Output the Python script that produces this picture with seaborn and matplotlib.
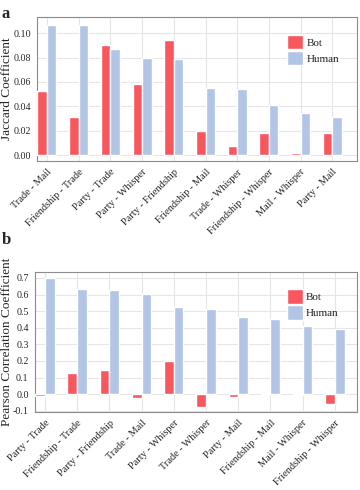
"""
Bot vs human: co-occurrence similarity between activity types
"""

import pandas as pd
import seaborn as sns
import matplotlib.pyplot as plt

# panel a: Jaccard coefficient
jac_pairs = ["Trade - Mail", "Friendship - Trade", "Party - Trade", "Party - Whisper",
             "Party - Friendship", "Friendship - Mail", "Trade - Whisper",
             "Friendship - Whisper", "Mail - Whisper", "Party - Mail"]
jac_bot = [0.0525, 0.031, 0.090, 0.058, 0.094, 0.0197, 0.0074, 0.018, 0.002, 0.018]
jac_human = [0.107, 0.1066, 0.087, 0.080, 0.079, 0.0547, 0.0543, 0.0415, 0.0344, 0.0314]

# panel b: Pearson correlation coefficient
pea_pairs = ["Party - Trade", "Friendship - Trade", "Party - Friendship", "Trade - Mail",
             "Party - Whisper", "Trade - Whisper", "Party - Mail", "Friendship - Mail",
             "Mail - Whisper", "Friendship - Whisper"]
pea_bot = [-0.010, 0.130, 0.148, -0.022, 0.197, -0.080, -0.015, 0.005, -0.005, -0.057]
pea_human = [0.697, 0.633, 0.625, 0.605, 0.525, 0.512, 0.467, 0.452, 0.413, 0.390]

PALETTE = {"Bot": "#F8575E", "Human": "#B2C5E6"}


def to_long(pairs, bot, human):
    df = pd.DataFrame({"Pair": pairs, "Bot": bot, "Human": human})
    return df.melt(id_vars="Pair", var_name="Type", value_name="Value")


def draw(ax, df, pairs, ylabel, ylim, yticks, fmt, xlim, label_x):
    sns.barplot(data=df, x="Pair", y="Value", hue="Type", order=pairs,
                hue_order=["Bot", "Human"], palette=PALETTE, width=0.6,
                saturation=1, ax=ax, zorder=3)
    ax.set_xlim(*xlim)
    ax.set_ylim(*ylim)
    ax.set_yticks(yticks)
    ax.set_yticklabels([fmt.format(v) for v in yticks], fontsize=7.2)
    ax.set_xticks(range(len(pairs)))
    ax.set_xticklabels(pairs, rotation=45, ha="right", rotation_mode="anchor",
                       fontsize=7.5)
    ax.set_xlabel("")
    ax.set_ylabel(ylabel, fontsize=9.5)
    ax.yaxis.set_label_coords(label_x, 0.5)
    ax.grid(True, color="#e6e6e6", linewidth=0.8, zorder=0)
    ax.set_axisbelow(True)
    for s in ax.spines.values():
        s.set_color("#8c8c8c")
        s.set_linewidth(0.8)
    ax.tick_params(axis="both", length=3, width=0.8, color="#333333", pad=1.5)
    leg = ax.legend(loc="upper right", frameon=False, fontsize=8,
                    handlelength=1.4, handleheight=1.6, handletextpad=0.3,
                    borderaxespad=0.8, labelspacing=0.15,
                    bbox_to_anchor=(0.985, 0.97))
    leg.set_title(None)


sns.set_style("white")
plt.rcParams["font.family"] = ["Liberation Serif", "DejaVu Serif"]

fig = plt.figure(figsize=(3.6, 4.9), dpi=100)
ax_a = fig.add_axes([0.103, 0.671, 0.889, 0.294])
ax_b = fig.add_axes([0.097, 0.159, 0.894, 0.286])

draw(ax_a, to_long(jac_pairs, jac_bot, jac_human), jac_pairs,
     "Jaccard Coefficient", (-0.0049, 0.1131),
     [0.00, 0.02, 0.04, 0.06, 0.08, 0.10], "{:.2f}", (-0.31, 9.78), -0.074)
draw(ax_b, to_long(pea_pairs, pea_bot, pea_human), pea_pairs,
     "Pearson Correlation Coefficient", (-0.108, 0.736),
     [-0.1, 0.0, 0.1, 0.2, 0.3, 0.4, 0.5, 0.6, 0.7], "{:.1f}", (-0.31, 9.68), -0.069)

fig.text(0.005, 0.972, "a", fontsize=12, fontweight="bold", va="center")
fig.text(0.005, 0.51, "b", fontsize=12, fontweight="bold", va="center")

plt.savefig("out.png", dpi=100)
